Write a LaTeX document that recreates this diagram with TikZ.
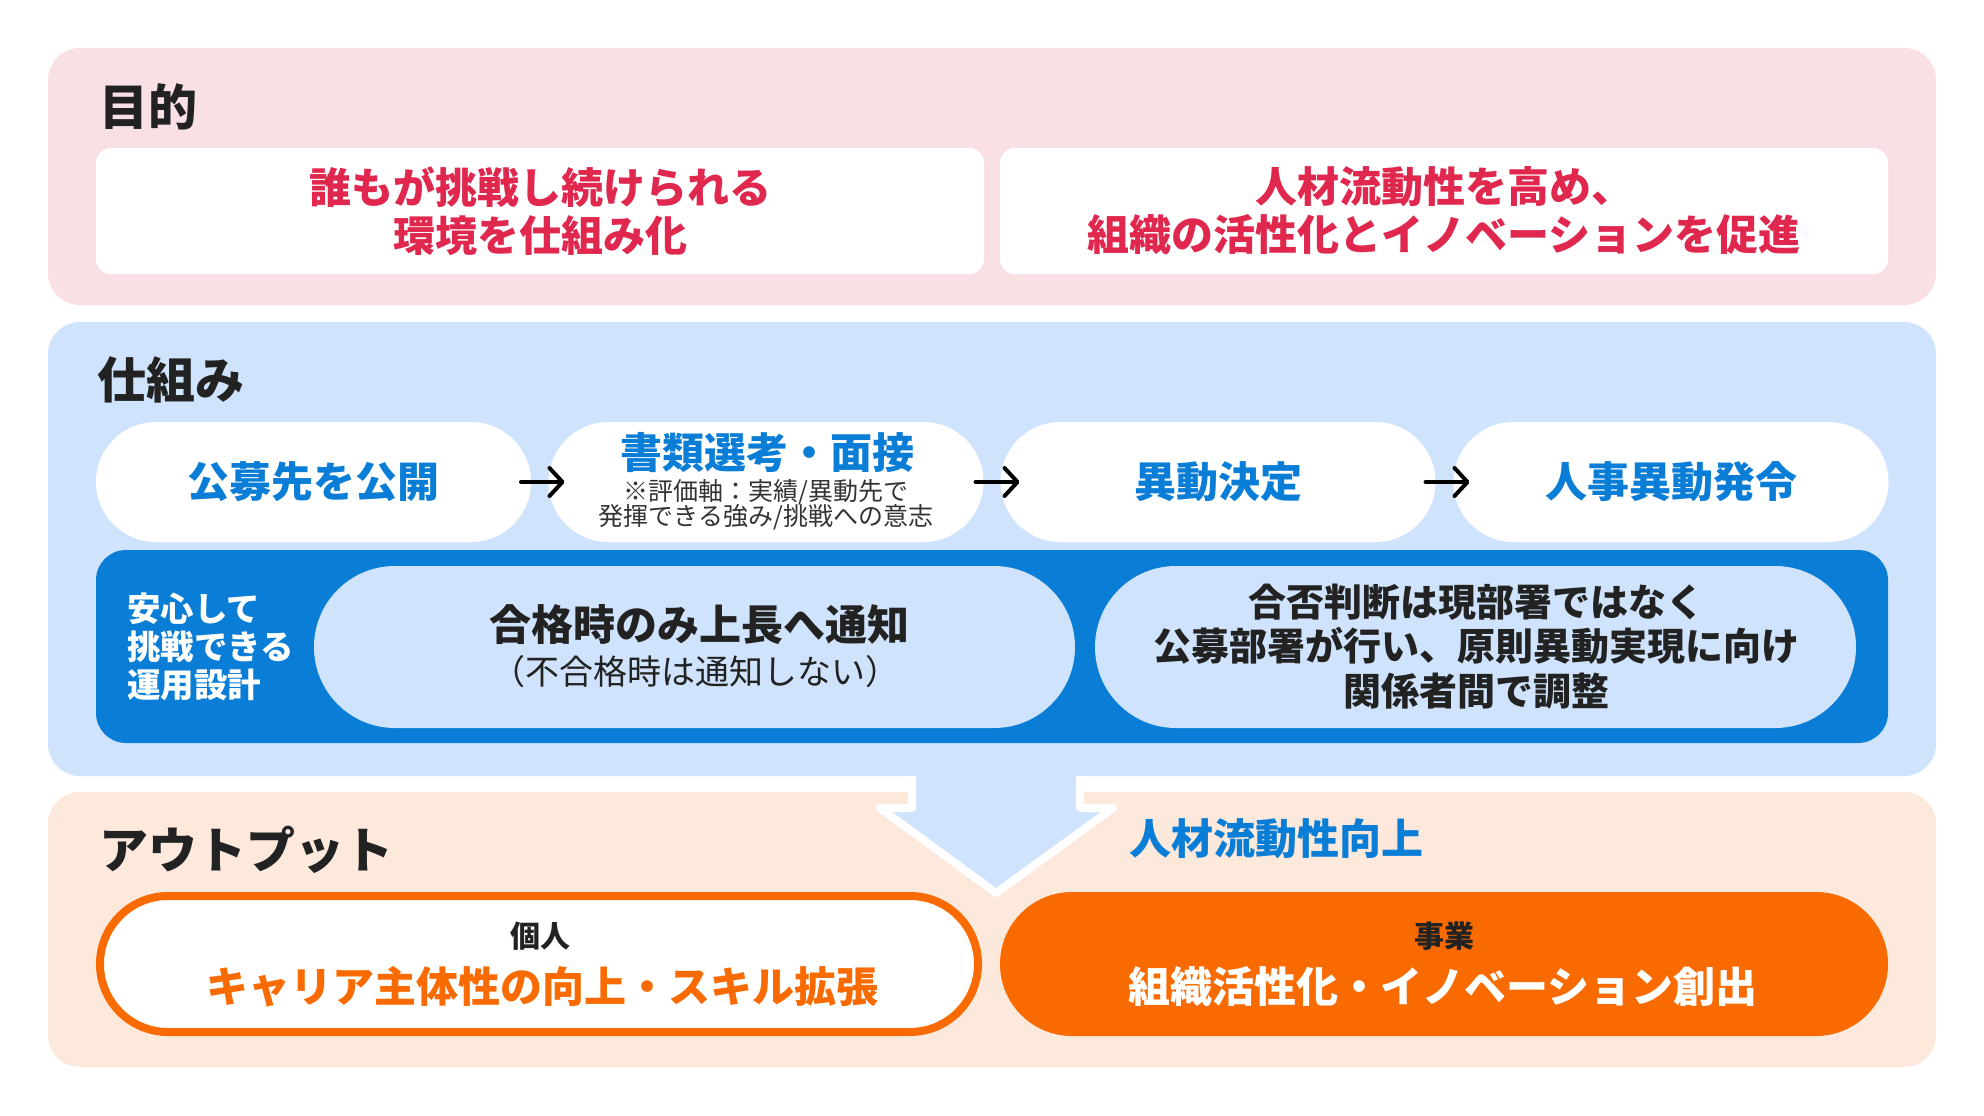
\documentclass[tikz,border=0pt]{standalone}
\usepackage{fontspec}
\setmainfont{Noto Sans CJK JP}
\usetikzlibrary{arrows.meta}
\definecolor{pinkbg}{HTML}{F9E0E5}
\definecolor{bluebg}{HTML}{CFE4FC}
\definecolor{peachbg}{HTML}{FCE9DC}
\definecolor{redtxt}{HTML}{E0284F}
\definecolor{bluetxt}{HTML}{0A7ED6}
\definecolor{bandblue}{HTML}{0A7ED6}
\definecolor{orng}{HTML}{F96B00}
\definecolor{darktxt}{HTML}{222222}
\definecolor{graytxt}{HTML}{333333}
\newcommand\myfs[2]{\fontsize{#1}{#2}\selectfont\lineskiplimit=-30pt\relax}
\begin{document}
\begin{tikzpicture}[x=1pt,y=-1pt,
  every node/.style={inner sep=0pt, outer sep=0pt},
  ttl/.style={anchor=west, font=\myfs{49}{52}\bfseries, text=darktxt},
  wbox/.style={fill=white, rounded corners=15pt, minimum width=888pt, minimum height=126pt},
  redt/.style={font=\myfs{42}{48}\bfseries, text=redtxt, align=center},
  flowpill/.style={fill=white, rounded corners=60pt, minimum width=435pt, minimum height=120pt, font=\myfs{42}{48}\bfseries, text=bluetxt},
  arr/.style={draw=black, line width=4pt, line cap=round, line join=round, -{Straight Barb[length=13pt,width=28pt,line cap=round,line join=round]}},
  inpill/.style={fill=bluebg, rounded corners=81pt, minimum width=761pt, minimum height=162pt},
  darkt/.style={text=darktxt, align=center},
]
\useasboundingbox (0,0) rectangle (1984,1116);
\fill[white] (0,0) rectangle (1984,1116);

% panels
\fill[pinkbg, rounded corners=32pt] (48,48) rectangle (1936,305);
\fill[bluebg, rounded corners=32pt] (48,322) rectangle (1936,776);
\fill[peachbg, rounded corners=32pt] (48,792) rectangle (1936,1067);

% ===== purpose
\node[ttl] (t1) at (99,106.5) {目的};
\node[wbox] (g1) at (540,211) {};
\node[wbox] (g2) at (1444,211) {};
\node[redt] (g1t) at (540,211) {誰もが挑戦し続けられる\\環境を仕組み化};
\node[redt] (g2t) at (1444,211) {人材流動性を高め、\\組織の活性化とイノベーションを促進};

% ===== mechanism
\node[ttl] (t2) at (97,380) {仕組み};
\node[flowpill] (p1) at (313.5,482) {公募先を公開};
\node[flowpill] (p2) at (766,482) {};
\node[flowpill] (p3) at (1218,482) {異動決定};
\node[flowpill] (p4) at (1671,482) {人事異動発令};
\node[font=\myfs{42}{48}\bfseries, text=bluetxt] (p2t) at (767,453) {書類選考・面接};
\node[font=\myfs{25}{25}, text=graytxt, align=center] (p2s) at (766,505) {※評価軸：実績/異動先で\\発揮できる強み/挑戦への意志};
\draw[arr] ([xshift=-10pt]p1.east) -- ([xshift=16pt]p2.west);
\draw[arr] ([xshift=-8pt]p2.east) -- ([xshift=19pt]p3.west);
\draw[arr] ([xshift=-10pt]p3.east) -- ([xshift=16pt]p4.west);

\node[fill=bandblue, rounded corners=30pt, minimum width=1792pt, minimum height=193pt] (band) at (992,646.5) {};
\node[anchor=west, font=\myfs{33.5}{38}\bfseries, text=white, align=left] (bl) at (127,647) {安心して\\挑戦できる\\運用設計};
\node[inpill] (ia) at (694.5,647) {};
\node[inpill] (ib) at (1475.5,647) {};
\node[darkt, font=\myfs{42}{48}\bfseries] (iat) at (699.5,625) {合格時のみ上長へ通知};
\node[darkt, font=\myfs{34}{38}] (ias) at (695,672) {（不合格時は通知しない）};
\node[darkt, font=\myfs{38}{44.5}\bfseries] (ibt) at (1476,646.5) {合否判断は現部署ではなく\\公募部署が行い、原則異動実現に向け\\関係者間で調整};

% ===== big arrow
\filldraw[fill=bluebg, draw=white, line width=8pt, line join=round] (912,776) -- (912,808) -- (880,808) -- (996,893) -- (1113,808) -- (1080,808) -- (1080,776);

% ===== output
\node[ttl] (t3) at (99,850) {アウトプット};
\node[anchor=west, font=\myfs{42}{48}\bfseries, text=bluetxt] (mob) at (1129,839) {人材流動性向上};
\node[draw=orng, line width=8pt, fill=white, rounded corners=68pt, minimum width=878pt, minimum height=136pt] (o1) at (539,964) {};
\node[fill=orng, rounded corners=72pt, minimum width=888pt, minimum height=144pt] (o2) at (1444,964) {};
\node[darkt, font=\myfs{30}{34}\bfseries] (o1l) at (540,936.5) {個人};
\node[font=\myfs{42}{48}\bfseries, text=orng] (o1t) at (542,987) {キャリア主体性の向上・スキル拡張};
\node[darkt, font=\myfs{30}{34}\bfseries] (o2l) at (1444.5,936.5) {事業};
\node[font=\myfs{42}{48}\bfseries, text=white] (o2t) at (1443,987) {組織活性化・イノベーション創出};
\end{tikzpicture}
\end{document}
